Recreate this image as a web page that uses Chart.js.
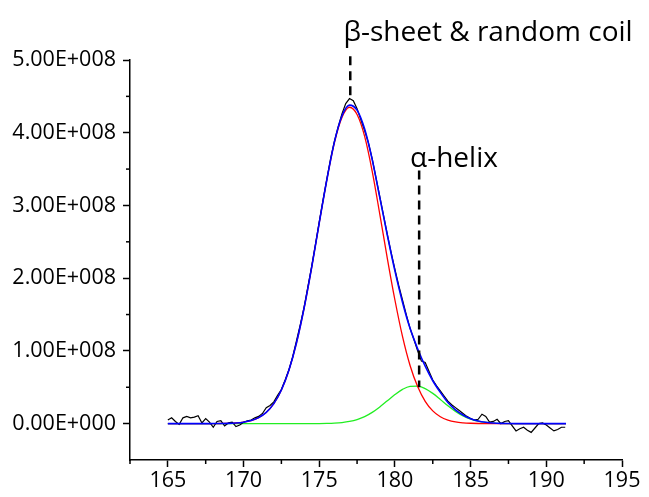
<!DOCTYPE html>
<html>
<head>
<meta charset="utf-8">
<script src="https://cdn.jsdelivr.net/npm/chart.js@4.4.1/dist/chart.umd.min.js"></script>
<style>
    html, body { margin: 0; padding: 0; background: #fff; }
</style>
</head>
<body>
<canvas id="fitChart" width="649" height="497"></canvas>
<script>
// intensities are in units of 1E+008
const UNIT = 1e8;

// fitted curves, sampled every 0.5
const fitX = [165, 165.5, 166, 166.5, 167, 167.5, 168, 168.5, 169, 169.5,
    170, 170.5, 171, 171.5, 172, 172.5, 173, 173.5, 174, 174.5,
    175, 175.5, 176, 176.5, 177, 177.5, 178, 178.5, 179, 179.5,
    180, 180.5, 181, 181.5, 182, 182.5, 183, 183.5, 184, 184.5,
    185, 185.5, 186, 186.5, 187, 187.5, 188, 188.5, 189, 189.5,
    190, 190.5, 191, 191.3];

const betaFit = [0, 0, 0, 0, 0, 0, 0.001, 0.002, 0.004, 0.009,
    0.020, 0.042, 0.083, 0.155, 0.275, 0.463, 0.738, 1.113, 1.59, 2.15,
    2.76, 3.35, 3.86, 4.21, 4.35, 4.25, 3.95, 3.47, 2.88, 2.27,
    1.70, 1.20, 0.80, 0.51, 0.307, 0.175, 0.094, 0.048, 0.023, 0.011,
    0.005, 0.002, 0.001, 0, 0, 0, 0, 0, 0, 0,
    0, 0, 0, 0];

const alphaFit = [0, 0, 0, 0, 0, 0, 0, 0, 0, 0,
    0, 0, 0, 0, 0, 0, 0, 0, 0, 0,
    0.001, 0.003, 0.007, 0.015, 0.030, 0.056, 0.097, 0.155, 0.230, 0.315,
    0.400, 0.471, 0.513, 0.517, 0.482, 0.416, 0.333, 0.246, 0.169, 0.107,
    0.063, 0.034, 0.017, 0.008, 0.003, 0.001, 0, 0, 0, 0,
    0, 0, 0, 0];

const sumFit = [0, 0, 0, 0, 0, 0, 0.001, 0.002, 0.004, 0.009,
    0.020, 0.042, 0.083, 0.155, 0.275, 0.463, 0.738, 1.113, 1.59, 2.15,
    2.76, 3.35, 3.87, 4.23, 4.38, 4.31, 4.05, 3.63, 3.11, 2.59,
    2.10, 1.67, 1.31, 1.03, 0.79, 0.59, 0.43, 0.29, 0.19, 0.118,
    0.068, 0.036, 0.018, 0.008, 0.003, 0.001, 0, 0, 0, 0,
    0, 0, 0, 0];

// measured spectrum, every 0.25
const rawX = [165, 165.25, 165.5, 165.75, 166, 166.25, 166.5, 166.75, 167, 167.25,
    167.5, 167.75, 168, 168.25, 168.5, 168.75, 169, 169.25, 169.5, 169.75,
    170, 170.25, 170.5, 170.75, 171, 171.25, 171.5, 171.75, 172, 172.25,
    172.5, 172.75, 173, 173.25, 173.5, 173.75, 174, 174.25, 174.5, 174.75,
    175, 175.25, 175.5, 175.75, 176, 176.25, 176.5, 176.75, 177, 177.25,
    177.5, 177.75, 178, 178.25, 178.5, 178.75, 179, 179.25, 179.5, 179.75,
    180, 180.25, 180.5, 180.75, 181, 181.25, 181.5, 181.75, 182, 182.25,
    182.5, 182.75, 183, 183.25, 183.5, 183.75, 184, 184.25, 184.5, 184.75,
    185, 185.25, 185.5, 185.75, 186, 186.25, 186.5, 186.75, 187, 187.25,
    187.5, 187.75, 188, 188.25, 188.5, 188.75, 189, 189.25, 189.5, 189.75,
    190, 190.25, 190.5, 190.75, 191, 191.25];

const rawY = [0.05, 0.08, 0.03, -0.01, 0.08, 0.10, 0.08, 0.09, 0.11, 0.01,
    0.07, 0.02, -0.05, 0.03, 0.04, -0.03, 0.01, 0.02, -0.04, -0.02,
    0.02, 0.04, 0.05, 0.08, 0.10, 0.14, 0.22, 0.25, 0.30, 0.39,
    0.47, 0.60, 0.74, 0.92, 1.14, 1.36, 1.60, 1.88, 2.16, 2.46,
    2.77, 3.07, 3.36, 3.64, 3.88, 4.08, 4.26, 4.40, 4.47, 4.44,
    4.33, 4.18, 4.03, 3.86, 3.64, 3.38, 3.12, 2.86, 2.60, 2.35,
    2.12, 1.90, 1.70, 1.50, 1.31, 1.16, 1.00, 0.86, 0.84, 0.72,
    0.60, 0.52, 0.45, 0.38, 0.31, 0.26, 0.22, 0.18, 0.14, 0.10,
    0.07, 0.05, 0.06, 0.13, 0.10, 0.02, 0.03, 0.06, 0.00, 0.03,
    0.04, -0.03, -0.10, -0.07, -0.05, -0.09, -0.12, -0.06, 0.00, 0.01,
    -0.02, -0.06, -0.10, -0.08, -0.05, -0.05];

// axes
const xTickValues = [165, 170, 175, 180, 185, 190, 195];
const xTickLabels = ["165", "170", "175", "180", "185", "190", "195"];
const xMinorTicks = [162.5, 167.5, 172.5, 177.5, 182.5, 187.5, 192.5];
const yTickValues = [0, 1, 2, 3, 4, 5];
const yTickLabels = ["0.00E+000", "1.00E+008", "2.00E+008", "3.00E+008", "4.00E+008", "5.00E+008"];
const yMinorTicks = [0.5, 1.5, 2.5, 3.5, 4.5];

// peak assignments: marker line and label
const peakNames = ["\u03b2-sheet & random coil", "\u03b1-helix"];
const peakLineX = [177.05, 181.6];
const peakLineTop = [5.05, 3.48];
const peakLineBottom = [4.48, 0.5];
const peakLabelX = [176.6, 181.0];
const peakLabelY = [5.26, 3.53];

const FONT = "'Open Sans', 'DejaVu Sans', sans-serif";

function toPoints(xs, ys) {
    return xs.map((x, i) => ({ x: x, y: ys[i] * UNIT }));
}

// minor ticks, peak markers and their labels
const peakMarks = {
    id: "peakMarks",
    afterDraw(chart) {
        const ctx = chart.ctx;
        const x = chart.scales.x;
        const y = chart.scales.y;
        ctx.save();
        ctx.strokeStyle = "#000";
        ctx.lineWidth = 1.5;
        xMinorTicks.forEach(v => {
            const px = x.getPixelForValue(v);
            ctx.beginPath();
            ctx.moveTo(px, y.bottom);
            ctx.lineTo(px, y.bottom + 4);
            ctx.stroke();
        });
        yMinorTicks.forEach(v => {
            const py = y.getPixelForValue(v * UNIT);
            ctx.beginPath();
            ctx.moveTo(x.left, py);
            ctx.lineTo(x.left - 4, py);
            ctx.stroke();
        });

        ctx.lineWidth = 2.5;
        ctx.setLineDash([9, 6]);
        peakLineX.forEach((v, i) => {
            const px = x.getPixelForValue(v);
            ctx.beginPath();
            ctx.moveTo(px, y.getPixelForValue(peakLineTop[i] * UNIT));
            ctx.lineTo(px, y.getPixelForValue(peakLineBottom[i] * UNIT));
            ctx.stroke();
        });
        ctx.setLineDash([]);

        ctx.fillStyle = "#000";
        ctx.font = "28px " + FONT;
        ctx.textAlign = "left";
        ctx.textBaseline = "alphabetic";
        peakNames.forEach((name, i) => {
            ctx.fillText(name, x.getPixelForValue(peakLabelX[i]), y.getPixelForValue(peakLabelY[i] * UNIT));
        });
        ctx.restore();
    }
};

const ctx = document.getElementById("fitChart").getContext("2d");

new Chart(ctx, {
    type: "line",
    data: {
        datasets: [
            {
                label: "fit sum",
                data: toPoints(fitX, sumFit),
                borderColor: "#0000ff",
                borderWidth: 1.6,
                cubicInterpolationMode: "monotone"
            },
            {
                label: "data",
                data: toPoints(rawX, rawY),
                borderColor: "#000000",
                borderWidth: 1.2,
                tension: 0
            },
            {
                label: "beta",
                data: toPoints(fitX, betaFit),
                borderColor: "#ff0000",
                borderWidth: 1.3,
                cubicInterpolationMode: "monotone"
            },
            {
                label: "alpha",
                data: toPoints(fitX, alphaFit),
                borderColor: "#22ee22",
                borderWidth: 1.3,
                cubicInterpolationMode: "monotone"
            }
        ]
    },
    options: {
        responsive: false,
        animation: false,
        layout: { padding: { left: 0, right: 27, top: 60, bottom: 0 } },
        elements: { point: { radius: 0 } },
        plugins: {
            legend: { display: false },
            tooltip: { enabled: false }
        },
        scales: {
            x: {
                type: "linear",
                min: 162.5,
                max: 195,
                afterBuildTicks: scale => {
                    scale.ticks = xTickValues.map(v => ({ value: v }));
                },
                afterFit: scale => { scale.height = 37; },
                ticks: {
                    autoSkip: false,
                    maxRotation: 0,
                    padding: 1,
                    color: "#000",
                    font: { family: FONT, size: 21.5 },
                    callback: (v, i) => xTickLabels[i]
                },
                grid: {
                    drawOnChartArea: false,
                    drawTicks: true,
                    tickLength: 7,
                    tickWidth: 1.5,
                    tickColor: "#000"
                },
                border: { display: true, color: "#000", width: 1.5 }
            },
            y: {
                type: "linear",
                min: -0.5 * UNIT,
                max: 5 * UNIT,
                afterBuildTicks: scale => {
                    scale.ticks = yTickValues.map(v => ({ value: v * UNIT }));
                },
                afterFit: scale => { scale.width = 130; },
                ticks: {
                    autoSkip: false,
                    padding: 7,
                    color: "#000",
                    font: { family: FONT, size: 21.5 },
                    callback: (v, i) => yTickLabels[i]
                },
                grid: {
                    drawOnChartArea: false,
                    drawTicks: true,
                    tickLength: 7,
                    tickWidth: 1.5,
                    tickColor: "#000"
                },
                border: { display: true, color: "#000", width: 1.5 }
            }
        }
    },
    plugins: [peakMarks]
});
</script>
</body>
</html>
